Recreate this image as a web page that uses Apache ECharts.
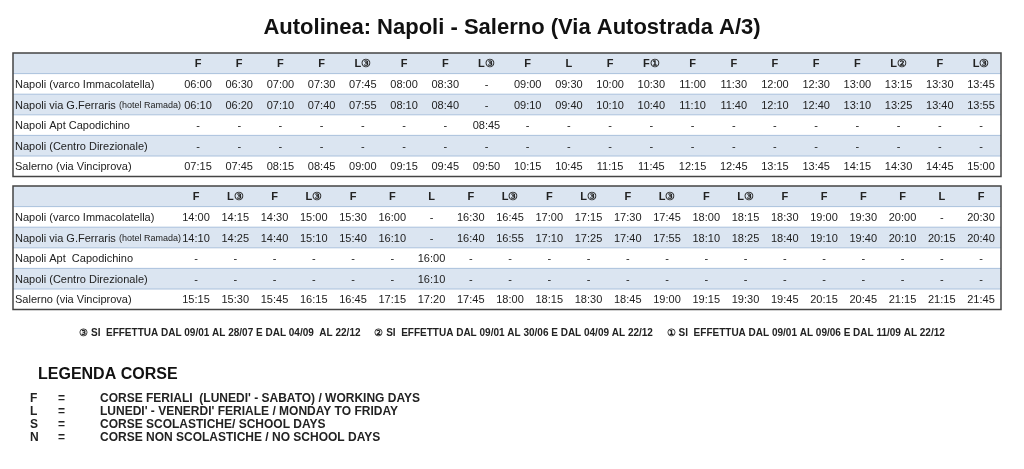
<!DOCTYPE html>
<html><head><meta charset="utf-8">
<script src="https://cdn.jsdelivr.net/npm/echarts@6/dist/echarts.min.js"></script>
<style>html,body{margin:0;padding:0;background:#fff}#c{width:1024px;height:469px}</style>
</head><body><div id="c"></div>
<script>
const title = "Autolinea: Napoli - Salerno (Via Autostrada A/3)";
const stops1 = ["Napoli (varco Immacolatella)", "Napoli via G.Ferraris", "Napoli Apt Capodichino", "Napoli (Centro Direzionale)", "Salerno (via Vinciprova)"];
const stops2 = ["Napoli (varco Immacolatella)", "Napoli via G.Ferraris", "Napoli Apt  Capodichino", "Napoli (Centro Direzionale)", "Salerno (via Vinciprova)"];
const types1 = ["F","F","F","F","L③","F","F","L③","F","L","F","F①","F","F","F","F","F","L②","F","L③"];
const t1r1 = ["06:00","06:30","07:00","07:30","07:45","08:00","08:30","-","09:00","09:30","10:00","10:30","11:00","11:30","12:00","12:30","13:00","13:15","13:30","13:45"];
const t1r2 = ["06:10","06:20","07:10","07:40","07:55","08:10","08:40","-","09:10","09:40","10:10","10:40","11:10","11:40","12:10","12:40","13:10","13:25","13:40","13:55"];
const t1r3 = ["-","-","-","-","-","-","-","08:45","-","-","-","-","-","-","-","-","-","-","-","-"];
const t1r4 = ["-","-","-","-","-","-","-","-","-","-","-","-","-","-","-","-","-","-","-","-"];
const t1r5 = ["07:15","07:45","08:15","08:45","09:00","09:15","09:45","09:50","10:15","10:45","11:15","11:45","12:15","12:45","13:15","13:45","14:15","14:30","14:45","15:00"];
const types2 = ["F","L③","F","L③","F","F","L","F","L③","F","L③","F","L③","F","L③","F","F","F","F","L","F"];
const t2r1 = ["14:00","14:15","14:30","15:00","15:30","16:00","-","16:30","16:45","17:00","17:15","17:30","17:45","18:00","18:15","18:30","19:00","19:30","20:00","-","20:30"];
const t2r2 = ["14:10","14:25","14:40","15:10","15:40","16:10","-","16:40","16:55","17:10","17:25","17:40","17:55","18:10","18:25","18:40","19:10","19:40","20:10","20:15","20:40"];
const t2r3 = ["-","-","-","-","-","-","16:00","-","-","-","-","-","-","-","-","-","-","-","-","-","-"];
const t2r4 = ["-","-","-","-","-","-","16:10","-","-","-","-","-","-","-","-","-","-","-","-","-","-"];
const t2r5 = ["15:15","15:30","15:45","16:15","16:45","17:15","17:20","17:45","18:00","18:15","18:30","18:45","19:00","19:15","19:30","19:45","20:15","20:45","21:15","21:15","21:45"];
const footnotes = ["③ SI  EFFETTUA DAL 09/01 AL 28/07 E DAL 04/09  AL 22/12", "② SI  EFFETTUA DAL 09/01 AL 30/06 E DAL 04/09 AL 22/12", "① SI  EFFETTUA DAL 09/01 AL 09/06 E DAL 11/09 AL 22/12"];
const legendTitle = "LEGENDA CORSE";
const legendKeys = ["F","L","S","N"];
const legendTexts = ["CORSE FERIALI  (LUNEDI' - SABATO) / WORKING DAYS","LUNEDI' - VENERDI' FERIALE / MONDAY TO FRIDAY","CORSE SCOLASTICHE/ SCHOOL DAYS","CORSE NON SCOLASTICHE / NO SCHOOL DAYS"];

const F = "'Liberation Sans', Arial, sans-serif";
const g = [];
const RH = 20.6, L = 13, R = 1001, blue = "#dbe5f1", ink = "#222";
function table(top, types, rows, names, x0) {
  const n = types.length, dx = (981 - x0) / (n - 1);
  for (let r = 0; r < 6; r++) {
    const y = top + r * RH;
    g.push({type:'rect', shape:{x:L, y:y, width:R-L, height:RH}, style:{fill:(r%2===0)?blue:'#fff'}});
    if (r > 0) g.push({type:'line', shape:{x1:L,y1:y,x2:R,y2:y}, style:{stroke:'#a9c0dc', lineWidth:1}});
  }
  g.push({type:'rect', shape:{x:L, y:top, width:R-L, height:RH*6}, style:{fill:'none', stroke:'#444', lineWidth:1.5}});
  types.forEach((t, i) => g.push({type:'text', style:{text:t, x:x0+i*dx, y:top+RH/2+1, align:'center', verticalAlign:'middle', font:"bold 11px "+F, fill:ink}}));
  rows.forEach((row, r) => {
    const y = top + (r+1)*RH + RH/2 + 1;
    if (r === 1) {
      g.push({type:'text', style:{text:'{a|'+names[r]+' }{b|(hotel Ramada)}', x:15, y:y, verticalAlign:'middle', rich:{a:{font:"11px "+F, fill:ink}, b:{font:"9px "+F, fill:ink}}}});
    } else {
      g.push({type:'text', style:{text:names[r], x:15, y:y, verticalAlign:'middle', font:"11px "+F, fill:ink}});
    }
    row.forEach((v, i) => g.push({type:'text', style:{text:v, x:x0+i*dx, y:y, align:'center', verticalAlign:'middle', font:"11px "+F, fill:ink}}));
  });
}
g.push({type:'text', style:{text:title, x:512, y:28, align:'center', verticalAlign:'middle', font:"bold 22px "+F, fill:'#111'}});
table(53, types1, [t1r1,t1r2,t1r3,t1r4,t1r5], stops1, 198);
table(186, types2, [t2r1,t2r2,t2r3,t2r4,t2r5], stops2, 196);
g.push({type:'text', style:{text:footnotes.join('     '), x:512, y:333, align:'center', verticalAlign:'middle', font:"bold 10px "+F, fill:ink}});
g.push({type:'text', style:{text:legendTitle, x:38, y:375, verticalAlign:'middle', font:"bold 16px "+F, fill:'#111'}});
legendKeys.forEach((k, i) => {
  const y = 399 + i*13;
  g.push({type:'text', style:{text:k, x:30, y:y, verticalAlign:'middle', font:"bold 12px "+F, fill:ink}});
  g.push({type:'text', style:{text:'=', x:58, y:y, verticalAlign:'middle', font:"bold 12px "+F, fill:ink}});
  g.push({type:'text', style:{text:legendTexts[i], x:100, y:y, verticalAlign:'middle', font:"bold 12px "+F, fill:ink}});
});
const chart = echarts.init(document.getElementById('c'));
chart.setOption({animation:false, graphic:{elements:g}});
</script>
</body></html>
